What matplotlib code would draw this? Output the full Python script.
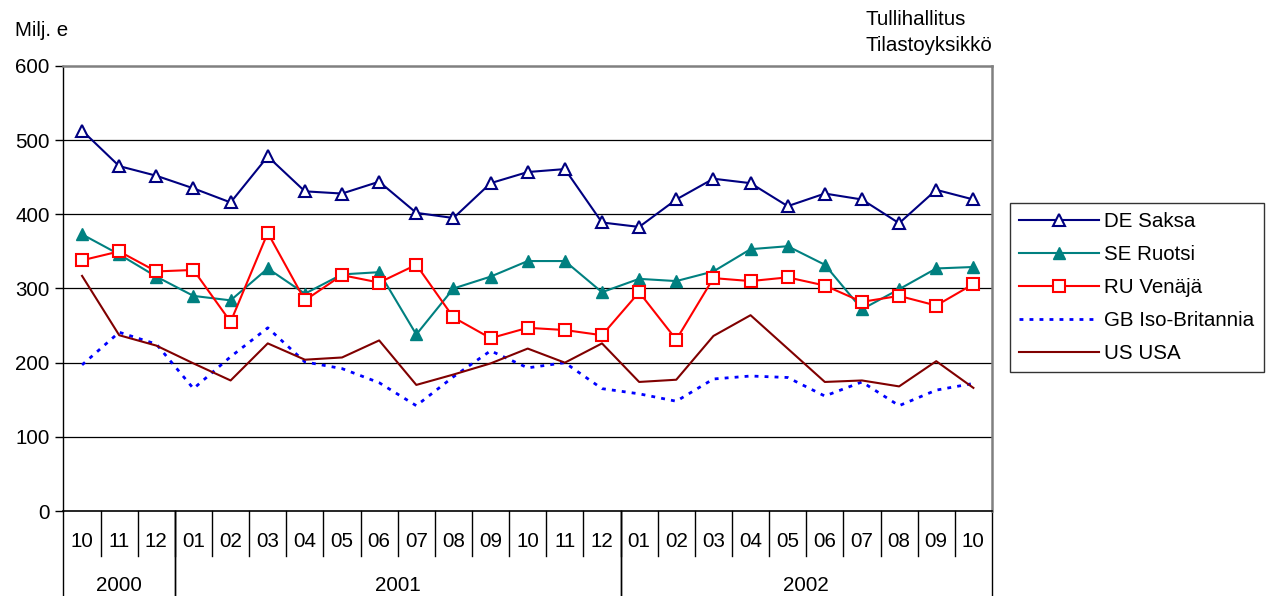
import matplotlib
matplotlib.use("Agg")
import matplotlib.pyplot as plt
from matplotlib.transforms import blended_transform_factory

plt.rcParams['font.family'] = ['Liberation Sans', 'DejaVu Sans']

months = ["10", "11", "12", "01", "02", "03", "04", "05", "06", "07", "08", "09",
          "10", "11", "12", "01", "02", "03", "04", "05", "06", "07", "08", "09", "10"]
years = ["2000", "2001", "2002"]
year_spans = [(0, 3), (3, 15), (15, 25)]

de_saksa = [513, 465, 452, 435, 416, 478, 431, 428, 444, 402, 395, 442, 457,
            461, 389, 383, 420, 448, 442, 411, 428, 420, 388, 433, 420]
se_ruotsi = [373, 346, 316, 290, 284, 327, 293, 319, 322, 238, 300, 316, 337,
             337, 295, 313, 310, 323, 353, 357, 332, 272, 299, 327, 329]
ru_venaja = [338, 350, 323, 325, 255, 375, 284, 318, 308, 332, 261, 233, 247,
             244, 237, 295, 231, 314, 310, 315, 304, 282, 290, 277, 306]
gb_iso_britannia = [197, 241, 225, 165, 208, 247, 201, 192, 173, 142, 181, 216, 193,
                    200, 165, 158, 148, 178, 182, 180, 155, 174, 142, 163, 172]
us_usa = [317, 237, 223, 199, 176, 226, 204, 207, 230, 170, 184, 199, 219,
          200, 226, 174, 177, 236, 264, 219, 174, 176, 168, 202, 166]

FS = 14.8

fig = plt.figure(figsize=(12.75, 5.96), dpi=100)
ax = fig.add_axes([0.0498, 0.1426, 0.7282, 0.7467])

x = list(range(len(months)))
ax.plot(x, de_saksa, color="#000080", lw=1.5, marker="^", ms=9,
        mfc="white", mec="#000080", mew=1.5, label="DE Saksa", zorder=5)
ax.plot(x, se_ruotsi, color="#008080", lw=1.5, marker="^", ms=9,
        mfc="#008080", mec="#008080", label="SE Ruotsi", zorder=5)
ax.plot(x, ru_venaja, color="#FF0000", lw=1.5, marker="s", ms=8,
        mfc="white", mec="#FF0000", mew=1.5, label="RU Venäjä", zorder=5)
ax.plot(x, gb_iso_britannia, color="#0000FF", lw=2.0, ls=(0, (1.4, 2.2)),
        label="GB Iso-Britannia", zorder=4)
ax.plot(x, us_usa, color="#800000", lw=1.5, label="US USA", zorder=4)

ax.set_xlim(-0.5, len(months) - 0.5)
ax.set_ylim(0, 600)
ax.set_yticks(range(0, 601, 100))
ax.tick_params(axis="y", direction="out", length=6, width=1, labelsize=FS, pad=4)
ax.set_xticks([])
for v in range(100, 600, 100):
    ax.axhline(v, color="black", lw=0.9, zorder=1)

for side in ("top", "right"):
    ax.spines[side].set_color("#808080")
    ax.spines[side].set_linewidth(1.8)
ax.spines["left"].set_linewidth(1.0)
ax.spines["bottom"].set_linewidth(1.2)

# Category axis: month labels in boxes, year groups below
tr = blended_transform_factory(ax.transData, ax.transAxes)
for i, m in enumerate(months):
    ax.text(i, -0.068, m, transform=tr, ha="center", va="center", fontsize=FS)
for i in range(1, len(months)):
    ax.plot([i - 0.5, i - 0.5], [0, -0.101], transform=tr, color="black",
            lw=1.0, clip_on=False)
for (a, b), yr in zip(year_spans, years):
    ax.text((a + b - 1) / 2, -0.167, yr, transform=tr, ha="center", va="center",
            fontsize=FS)
    for edge in (a, b):
        ax.plot([edge - 0.5, edge - 0.5], [0, -0.2], transform=tr, color="black",
                lw=1.0, clip_on=False)

fig.text(0.012, 0.948, "Milj. e", fontsize=FS, ha="left", va="center")
fig.text(0.679, 0.968, "Tullihallitus", fontsize=FS, ha="left", va="center")
fig.text(0.679, 0.923, "Tilastoyksikkö", fontsize=FS, ha="left", va="center")

leg = fig.legend(loc="upper left", bbox_to_anchor=(0.792, 0.66), fontsize=FS,
                 frameon=True, fancybox=False, edgecolor="black", handlelength=3.9,
                 borderpad=0.45, labelspacing=0.68, handletextpad=0.25,
                 borderaxespad=0)
leg.get_frame().set_linewidth(1.0)

fig.savefig("out.png", dpi=100)
